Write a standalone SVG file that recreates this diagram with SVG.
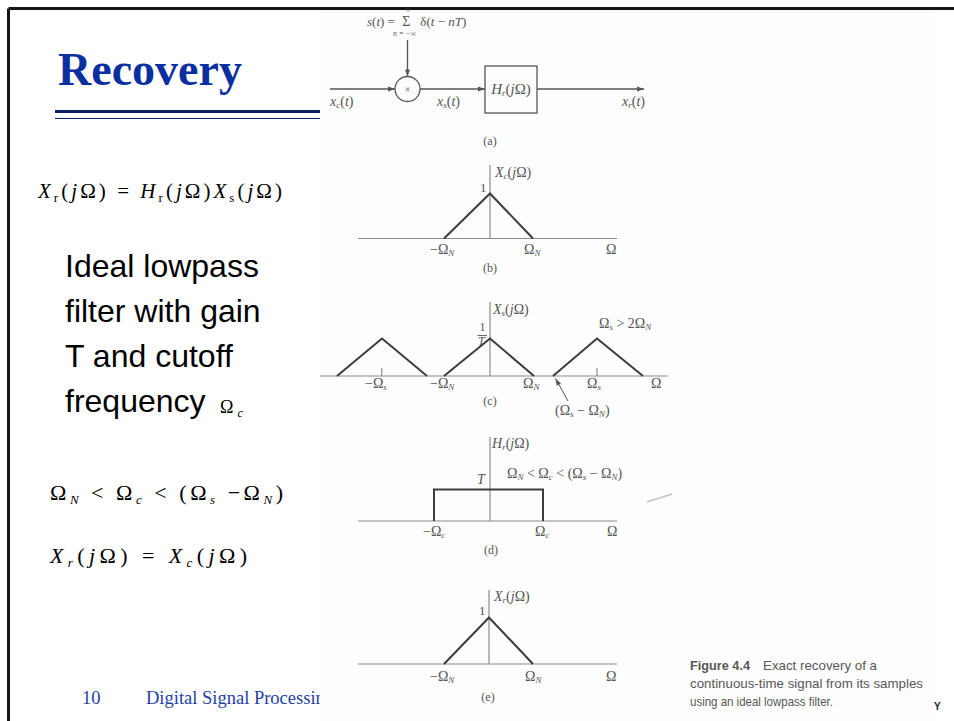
<svg xmlns="http://www.w3.org/2000/svg" width="954" height="721" viewBox="0 0 954 721">
<defs>
<style>
.frame{stroke:#151515;stroke-width:3;fill:none}
.title{font-family:"Liberation Serif","Times New Roman",serif;font-weight:bold;font-size:46px;fill:#0b2fa0}
.body{font-family:"Liberation Sans",Arial,sans-serif;font-size:32px;fill:#000}
.math{font-family:"Liberation Serif","Times New Roman",serif;font-size:21px;fill:#000}
.it{font-style:italic}
.sub{font-size:13px}
.foot{font-family:"Liberation Serif","Times New Roman",serif;font-size:18.5px;fill:#2540a8}
.fig{font-family:"Liberation Serif","Times New Roman",serif;font-size:14px;fill:#555}
.figs{font-size:9px}
.lbl{font-size:12px}
.axis{stroke:#8c8c8c;stroke-width:1.2;fill:none}
.sig{stroke:#3c3c3c;stroke-width:2;fill:none}
.wire{stroke:#555;stroke-width:1.3;fill:none}
.cap{font-family:"Liberation Sans",Arial,sans-serif;font-size:13px;fill:#585858}
</style>
<marker id="ah" viewBox="0 0 10 10" refX="10" refY="5" markerWidth="8" markerHeight="7" orient="auto" markerUnits="userSpaceOnUse"><path d="M0,1.5 L10,5 L0,8.5 z" fill="#555"/></marker>
</defs>
<rect x="0" y="0" width="954" height="721" fill="#fff"/>

<g id="slide-frame">
<line class="frame" x1="8.5" y1="8.5" x2="954" y2="8.5"/>
<line class="frame" x1="8.5" y1="8.5" x2="8.5" y2="721"/>
</g>

<g id="title">
<text class="title" x="58" y="85">Recovery</text>
<line x1="55" y1="111.5" x2="320" y2="111.5" stroke="#0a1f5c" stroke-width="3"/>
<line x1="55" y1="118.5" x2="320" y2="118.5" stroke="#0a1f5c" stroke-width="1.2"/>
</g>

<g id="left-text">
<text class="math" x="38" y="198" textLength="244" lengthAdjust="spacing"><tspan class="it">X</tspan><tspan class="sub" dy="4">r</tspan><tspan dy="-4">(</tspan><tspan class="it">j</tspan>Ω) = <tspan class="it">H</tspan><tspan class="sub" dy="4">r</tspan><tspan dy="-4">(</tspan><tspan class="it">j</tspan>Ω)<tspan class="it">X</tspan><tspan class="sub" dy="4">s</tspan><tspan dy="-4">(</tspan><tspan class="it">j</tspan>Ω)</text>
<text class="body" x="65" y="277">Ideal lowpass</text>
<text class="body" x="65" y="322">filter with gain</text>
<text class="body" x="65" y="367">T and cutoff</text>
<text class="body" x="65" y="412">frequency</text>
<text class="math" x="220" y="413" style="font-size:18px">Ω<tspan class="it" style="font-size:12px" dy="4" dx="4">c</tspan></text>
<text class="math" x="50" y="500" style="font-size:22px" textLength="233" lengthAdjust="spacing">Ω<tspan class="it sub" dy="4">N</tspan><tspan dy="-4"> &lt; Ω</tspan><tspan class="it sub" dy="4">c</tspan><tspan dy="-4"> &lt; (Ω</tspan><tspan class="it sub" dy="4">s</tspan><tspan dy="-4"> −Ω</tspan><tspan class="it sub" dy="4">N</tspan><tspan dy="-4">)</tspan></text>
<text class="math" x="50" y="563" style="font-size:22px" textLength="197" lengthAdjust="spacing"><tspan class="it">X</tspan><tspan class="it sub" dy="4">r</tspan><tspan dy="-4">(</tspan><tspan class="it">j</tspan>Ω) = <tspan class="it">X</tspan><tspan class="it sub" dy="4">c</tspan><tspan dy="-4">(</tspan><tspan class="it">j</tspan>Ω)</text>
</g>

<g id="footer">
<text class="foot" x="82" y="704">10</text>
<text class="foot" x="146" y="704">Digital Signal Processing</text>
</g>

<rect id="figure-bg" x="320" y="10" width="612" height="711" fill="#fdfdfd"/>

<g id="connectors">
<line class="wire" x1="330" y1="89" x2="395" y2="89" marker-end="url(#ah)"/>
<line class="wire" x1="407.5" y1="40" x2="407.5" y2="76.5" marker-end="url(#ah)"/>
<line class="wire" x1="420" y1="89" x2="485" y2="89" marker-end="url(#ah)"/>
<line class="wire" x1="537" y1="89" x2="644" y2="89" marker-end="url(#ah)"/>
</g>

<g id="sampling-input">
<text class="fig" x="367" y="26" style="font-size:13px"><tspan class="it">s</tspan>(<tspan class="it">t</tspan>) = <tspan dx="4" style="font-size:14px">Σ</tspan><tspan dx="10">δ(</tspan><tspan class="it">t</tspan> − <tspan class="it">nT</tspan>)</text>
<text class="fig" x="405.5" y="12" style="font-size:7px">∞</text>
<text class="fig it" x="393" y="36" style="font-size:7.5px">n = −∞</text>
</g>

<g id="multiplier">
<circle cx="407.5" cy="89" r="12.5" fill="none" stroke="#555" stroke-width="1.3"/>
<text class="fig" x="407.5" y="92.5" text-anchor="middle" style="font-size:10px">×</text>
</g>

<g id="filter">
<rect x="485" y="66" width="52" height="47" fill="none" stroke="#555" stroke-width="1.3"/>
<text class="fig" x="511" y="94" text-anchor="middle" style="font-size:15px"><tspan class="it">H</tspan><tspan class="it figs" dy="2">r</tspan><tspan dy="-2">(</tspan><tspan class="it">j</tspan>Ω)</text>
</g>

<g id="block-labels">
<text class="fig" x="330" y="106"><tspan class="it">x</tspan><tspan class="it figs" dy="2">c</tspan><tspan dy="-2">(</tspan><tspan class="it">t</tspan>)</text>
<text class="fig" x="437" y="106"><tspan class="it">x</tspan><tspan class="it figs" dy="2">s</tspan><tspan dy="-2">(</tspan><tspan class="it">t</tspan>)</text>
<text class="fig" x="622" y="106"><tspan class="it">x</tspan><tspan class="it figs" dy="2">r</tspan><tspan dy="-2">(</tspan><tspan class="it">t</tspan>)</text>
<text class="fig lbl" x="490" y="145" text-anchor="middle">(a)</text>
</g>

<g id="panel-b">
<line class="axis" x1="358" y1="238.5" x2="617" y2="238.5"/>
<line class="axis" x1="490" y1="165" x2="490" y2="238.5"/>
<polyline class="sig" points="444,238.5 490,193.5 533,238.5"/>
<text class="fig" x="480" y="192" style="font-size:13px">1</text>
<text class="fig" x="495" y="177"><tspan class="it">X</tspan><tspan class="it figs" dy="2">c</tspan><tspan dy="-2">(</tspan><tspan class="it">j</tspan>Ω)</text>
<text class="fig" x="430" y="254">−Ω<tspan class="it figs" dy="2">N</tspan></text>
<text class="fig" x="524" y="254">Ω<tspan class="it figs" dy="2">N</tspan></text>
<text class="fig" x="606" y="254">Ω</text>
<text class="fig lbl" x="490" y="272" text-anchor="middle">(b)</text>
</g>

<g id="panel-c">
<line class="axis" x1="320" y1="376" x2="668" y2="376"/>
<line class="axis" x1="490" y1="302" x2="490" y2="376"/>
<line class="axis" x1="381.7" y1="368" x2="381.7" y2="376"/>
<line class="axis" x1="597" y1="368" x2="597" y2="376"/>
<polyline class="sig" points="337,376 382,338.5 427,376"/>
<polyline class="sig" points="444,376 490,338.5 534,376"/>
<polyline class="sig" points="553,376 597,338.5 643,376"/>
<text class="fig" x="493" y="314"><tspan class="it">X</tspan><tspan class="it figs" dy="2">s</tspan><tspan dy="-2">(</tspan><tspan class="it">j</tspan>Ω)</text>
<text class="fig" x="479.5" y="331" style="font-size:12px">1</text>
<line x1="477.5" y1="335.5" x2="487" y2="335.5" stroke="#555" stroke-width="0.9"/>
<text class="fig it" x="478" y="345" style="font-size:12px">T</text>
<text class="fig" x="599" y="328">Ω<tspan class="it figs" dy="2">s</tspan><tspan dy="-2"> &gt; 2Ω</tspan><tspan class="it figs" dy="2">N</tspan></text>
<text class="fig" x="365" y="388">−Ω<tspan class="it figs" dy="2">s</tspan></text>
<text class="fig" x="430" y="388">−Ω<tspan class="it figs" dy="2">N</tspan></text>
<text class="fig" x="523" y="388">Ω<tspan class="it figs" dy="2">N</tspan></text>
<text class="fig" x="587" y="388">Ω<tspan class="it figs" dy="2">s</tspan></text>
<text class="fig" x="651" y="388">Ω</text>
<text class="fig lbl" x="490" y="405" text-anchor="middle">(c)</text>
<text class="fig" x="555" y="415">(Ω<tspan class="it figs" dy="2">s</tspan><tspan dy="-2"> − Ω</tspan><tspan class="it figs" dy="2">N</tspan><tspan dy="-2">)</tspan></text>
<line x1="568" y1="401" x2="555.5" y2="378.5" stroke="#555" stroke-width="1" marker-end="url(#ah)"/>
</g>

<g id="panel-d">
<line class="axis" x1="358" y1="521" x2="617" y2="521"/>
<line class="axis" x1="490" y1="437" x2="490" y2="521"/>
<polyline class="sig" points="434,521 434,489.5 543,489.5 543,521"/>
<text class="fig" x="492" y="448"><tspan class="it">H</tspan><tspan class="it figs" dy="2">r</tspan><tspan dy="-2">(</tspan><tspan class="it">j</tspan>Ω)</text>
<text class="fig it" x="477" y="484">T</text>
<text class="fig" x="507" y="478">Ω<tspan class="it figs" dy="2">N</tspan><tspan dy="-2"> &lt; Ω</tspan><tspan class="it figs" dy="2">c</tspan><tspan dy="-2"> &lt; (Ω</tspan><tspan class="it figs" dy="2">s</tspan><tspan dy="-2"> − Ω</tspan><tspan class="it figs" dy="2">N</tspan><tspan dy="-2">)</tspan></text>
<text class="fig" x="423" y="536">−Ω<tspan class="it figs" dy="2">c</tspan></text>
<text class="fig" x="535" y="536">Ω<tspan class="it figs" dy="2">c</tspan></text>
<text class="fig" x="607" y="536">Ω</text>
<text class="fig lbl" x="491" y="554" text-anchor="middle">(d)</text>
<line x1="647" y1="502" x2="672" y2="494" stroke="#c4c4c4" stroke-width="1.5"/>
</g>

<g id="panel-e">
<line class="axis" x1="358" y1="664" x2="617" y2="664"/>
<line class="axis" x1="489" y1="590" x2="489" y2="664"/>
<polyline class="sig" points="444,664 489,617.5 533,664"/>
<text class="fig" x="479" y="615" style="font-size:13px">1</text>
<text class="fig" x="494" y="601"><tspan class="it">X</tspan><tspan class="it figs" dy="2">r</tspan><tspan dy="-2">(</tspan><tspan class="it">j</tspan>Ω)</text>
<text class="fig" x="430" y="681">−Ω<tspan class="it figs" dy="2">N</tspan></text>
<text class="fig" x="525" y="681">Ω<tspan class="it figs" dy="2">N</tspan></text>
<text class="fig" x="606" y="681">Ω</text>
<text class="fig lbl" x="488" y="701" text-anchor="middle">(e)</text>
</g>

<g id="caption">
<text class="cap" x="690" y="670" font-weight="bold" textLength="60" lengthAdjust="spacingAndGlyphs">Figure 4.4</text>
<text class="cap" x="763" y="670" textLength="114" lengthAdjust="spacingAndGlyphs">Exact recovery of a</text>
<text class="cap" x="690" y="688" textLength="233" lengthAdjust="spacingAndGlyphs">continuous-time signal from its samples</text>
<text class="cap" x="690" y="706" textLength="143" lengthAdjust="spacingAndGlyphs">using an ideal lowpass filter.</text>
<text x="934" y="710" font-family="Liberation Sans,Arial,sans-serif" font-weight="bold" font-size="10" fill="#222">Y</text>
</g>
</svg>
